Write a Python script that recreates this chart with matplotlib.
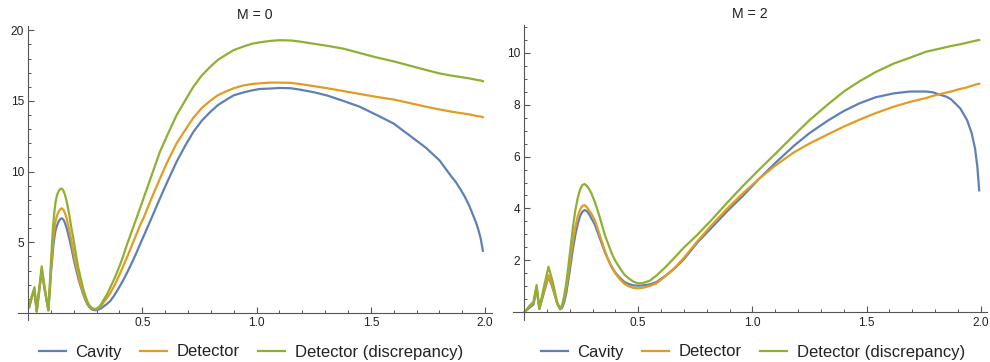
import matplotlib
matplotlib.use("Agg")
import matplotlib.pyplot as plt
from matplotlib.ticker import MultipleLocator

plt.rcParams['font.family'] = ['Liberation Sans', 'DejaVu Sans']

# M = 0 panel
x0 = [0.005, 0.015, 0.028, 0.038, 0.048, 0.06, 0.072, 0.089,
      0.095, 0.10, 0.105, 0.11, 0.115, 0.12, 0.127, 0.135, 0.142, 0.148, 0.155, 0.162,
      0.169, 0.18, 0.19, 0.198, 0.21, 0.22, 0.227, 0.24, 0.25, 0.26, 0.27, 0.28, 0.29, 0.30,
      0.31, 0.32, 0.33, 0.345, 0.36, 0.38, 0.40, 0.416, 0.432, 0.45, 0.47, 0.49, 0.505,
      0.54, 0.577, 0.61, 0.65, 0.69, 0.723, 0.76, 0.796, 0.83, 0.869, 0.90, 0.942, 0.98,
      1.015, 1.06, 1.10, 1.15, 1.19, 1.25, 1.31, 1.38, 1.45, 1.52, 1.60, 1.67, 1.74, 1.80,
      1.85, 1.87, 1.89, 1.91, 1.93, 1.945, 1.96, 1.97, 1.98, 1.99]
cavity0 = [0.4, 1.0, 1.6, 0.1, 1.4, 3.0, 1.7, 0.18,
           1.5, 2.7, 3.7, 4.6, 5.3, 5.8, 6.2, 6.5, 6.65, 6.7, 6.6, 6.35,
           6.0, 5.3, 4.6, 3.95, 3.1, 2.45, 2.05, 1.4, 0.95, 0.6, 0.38, 0.25, 0.2, 0.2,
           0.25, 0.33, 0.45, 0.63, 0.85, 1.3, 1.85, 2.3, 2.8, 3.4, 4.1, 4.85, 5.4,
           6.7, 8.1, 9.3, 10.7, 11.9, 12.8, 13.6, 14.2, 14.7, 15.1, 15.4, 15.6, 15.75,
           15.85, 15.88, 15.92, 15.9, 15.8, 15.62, 15.38, 15.0, 14.6, 14.05, 13.4, 12.55, 11.7, 10.8,
           9.7, 9.3, 8.8, 8.25, 7.6, 7.0, 6.4, 5.9, 5.3, 4.4]
detector0 = [0.42, 1.05, 1.7, 0.1, 1.5, 3.1, 1.8, 0.19,
             1.7, 3.0, 4.1, 5.1, 5.9, 6.45, 6.9, 7.2, 7.35, 7.4, 7.3, 7.05,
             6.7, 5.9, 5.1, 4.35, 3.4, 2.7, 2.2, 1.5, 1.05, 0.68, 0.45, 0.32, 0.27, 0.28,
             0.36, 0.5, 0.72, 1.05, 1.4, 2.0, 2.7, 3.3, 3.9, 4.6, 5.4, 6.2, 6.7,
             8.1, 9.5, 10.7, 12.0, 13.0, 13.8, 14.5, 15.0, 15.4, 15.7, 15.9, 16.1, 16.2,
             16.25, 16.3, 16.3, 16.28, 16.2, 16.05, 15.9, 15.7, 15.5, 15.3, 15.1, 14.85, 14.6, 14.4,
             14.25, 14.2, 14.15, 14.1, 14.05, 14.0, 13.95, 13.92, 13.9, 13.85]
discrepancy0 = [0.45, 1.1, 1.82, 0.1, 1.6, 3.3, 1.9, 0.2,
                1.9, 3.5, 4.9, 6.2, 7.1, 7.8, 8.35, 8.65, 8.78, 8.8, 8.65, 8.35,
                7.9, 7.0, 6.0, 5.3, 4.1, 3.2, 2.7, 1.8, 1.25, 0.8, 0.5, 0.35, 0.28, 0.3,
                0.42, 0.62, 0.9, 1.3, 1.8, 2.5, 3.3, 4.0, 4.8, 5.6, 6.5, 7.4, 8.1,
                9.7, 11.4, 12.6, 14.0, 15.1, 16.0, 16.8, 17.4, 17.9, 18.3, 18.6, 18.85, 19.05,
                19.15, 19.25, 19.3, 19.28, 19.2, 19.05, 18.9, 18.7, 18.4, 18.1, 17.8, 17.5, 17.2, 16.95,
                16.8, 16.75, 16.7, 16.65, 16.6, 16.55, 16.5, 16.47, 16.45, 16.4]

# M = 2 panel
x2 = [0.004, 0.026, 0.041, 0.055, 0.067, 0.085, 0.107, 0.125, 0.145, 0.158,
      0.167, 0.176, 0.185, 0.195, 0.205, 0.215, 0.225, 0.235, 0.245, 0.255, 0.265, 0.275, 0.285, 0.295,
      0.31, 0.325, 0.34, 0.355, 0.37, 0.385, 0.40, 0.42, 0.44, 0.46, 0.48, 0.50, 0.52, 0.55,
      0.58, 0.62, 0.66, 0.70,
      0.76, 0.82, 0.89, 0.96, 1.03, 1.10, 1.18, 1.25, 1.33, 1.40, 1.47, 1.54, 1.62, 1.69,
      1.76, 1.79, 1.82, 1.85, 1.87, 1.91, 1.94, 1.96, 1.975, 1.985, 1.993]
cavity2 = [0.03, 0.2, 0.3, 0.9, 0.13, 0.7, 1.38, 0.95, 0.35, 0.12,
           0.18, 0.4, 0.75, 1.3, 1.9, 2.5, 3.0, 3.4, 3.7, 3.87, 3.94, 3.9, 3.78, 3.62,
           3.38, 3.02, 2.66, 2.3, 2.0, 1.74, 1.53, 1.33, 1.17, 1.09, 1.04, 1.03, 1.04, 1.08,
           1.17, 1.42, 1.7, 2.05,
           2.7, 3.25, 3.9, 4.5, 5.15, 5.75, 6.4, 6.9, 7.38, 7.75, 8.05, 8.28, 8.43, 8.5,
           8.5, 8.47, 8.38, 8.3, 8.2, 7.85, 7.4, 6.9, 6.3, 5.6, 4.7]
detector2 = [0.03, 0.25, 0.35, 0.95, 0.15, 0.75, 1.44, 1.0, 0.35, 0.13,
             0.25, 0.55, 0.95, 1.55, 2.2, 2.8, 3.3, 3.7, 3.95, 4.1, 4.13, 4.05, 3.92, 3.8,
             3.55, 3.15, 2.75, 2.35, 2.0, 1.72, 1.5, 1.27, 1.1, 1.0, 0.94, 0.93, 0.95, 1.02,
             1.12, 1.4, 1.72, 2.1,
             2.75, 3.35, 4.0, 4.6, 5.15, 5.65, 6.15, 6.5, 6.85, 7.15, 7.42, 7.67, 7.92, 8.1,
             8.25, 8.33, 8.4, 8.46, 8.5, 8.6, 8.66, 8.72, 8.76, 8.78, 8.8]
discrepancy2 = [0.03, 0.28, 0.4, 1.06, 0.16, 0.9, 1.76, 1.2, 0.4, 0.14,
                0.3, 0.65, 1.15, 1.85, 2.6, 3.35, 3.95, 4.4, 4.72, 4.9, 4.94, 4.87, 4.75, 4.58,
                4.25, 3.85, 3.4, 2.95, 2.6, 2.25, 1.98, 1.7, 1.45, 1.3, 1.18, 1.12, 1.13, 1.22,
                1.42, 1.75, 2.12, 2.5,
                3.0, 3.55, 4.23, 4.88, 5.5, 6.1, 6.8, 7.4, 8.0, 8.5, 8.9, 9.25, 9.58, 9.8,
                10.03, 10.09, 10.15, 10.21, 10.25, 10.32, 10.38, 10.42, 10.45, 10.47, 10.48]

labels = ['Cavity', 'Detector', 'Detector (discrepancy)']
colors = ['#5E81B5', '#E19C24', '#8FB032']
axis_color = '#555555'

fig = plt.figure(figsize=(9.9, 3.62), dpi=100)
ax_left = fig.add_axes([0.0186, 0.116, 0.4784, 0.812])
ax_right = fig.add_axes([0.5185, 0.116, 0.4782, 0.815])


def style_axes(ax, ymajor, yminor):
    for side in ['top', 'right']:
        ax.spines[side].set_visible(False)
    for side in ['left', 'bottom']:
        ax.spines[side].set_position(('data', 0))
        ax.spines[side].set_color(axis_color)
        ax.spines[side].set_linewidth(0.8)
    ax.set_xticks([0.5, 1.0, 1.5, 2.0])
    ax.set_xticklabels(['0.5', '1.0', '1.5', '2.0'])
    ax.xaxis.set_minor_locator(MultipleLocator(0.1))
    ax.set_yticks(ymajor)
    ax.set_yticklabels([str(v) for v in ymajor])
    ax.yaxis.set_minor_locator(MultipleLocator(yminor))
    ax.tick_params(which='major', direction='in', length=4, width=0.8,
                   color=axis_color, labelsize=8.6, labelcolor='#222222', pad=3)
    ax.tick_params(which='minor', direction='in', length=2.2, width=0.7,
                   color=axis_color)


lines_left = []
for ys, c, lab in zip([cavity0, detector0, discrepancy0], colors, labels):
    ln, = ax_left.plot(x0, ys, color=c, lw=1.6, label=lab)
    lines_left.append(ln)
ax_left.set_xlim(-0.042, 2.03)
ax_left.set_ylim(-0.5, 20.3)
style_axes(ax_left, [5, 10, 15, 20], 1)
ax_left.set_title('M = 0', fontsize=10.2, color='#222222', pad=5)

lines_right = []
for ys, c, lab in zip([cavity2, detector2, discrepancy2], colors, labels):
    ln, = ax_right.plot(x2, ys, color=c, lw=1.6, label=lab)
    lines_right.append(ln)
ax_right.set_xlim(-0.047, 2.026)
ax_right.set_ylim(-0.29, 11.06)
style_axes(ax_right, [2, 4, 6, 8, 10], 0.5)
ax_right.set_title('M = 2', fontsize=10.2, color='#222222', pad=5)

legend_kw = dict(loc='center', ncol=3, frameon=False, fontsize=12,
                 handlelength=1.62, handletextpad=0.58, columnspacing=1.1,
                 bbox_transform=fig.transFigure, labelcolor='#222222')
ax_left.legend(handles=lines_left, bbox_to_anchor=(251 / 990, 1 - 352 / 362), **legend_kw)
ax_right.legend(handles=lines_right, bbox_to_anchor=(753 / 990, 1 - 352 / 362), **legend_kw)

fig.savefig('out.png', dpi=100)
